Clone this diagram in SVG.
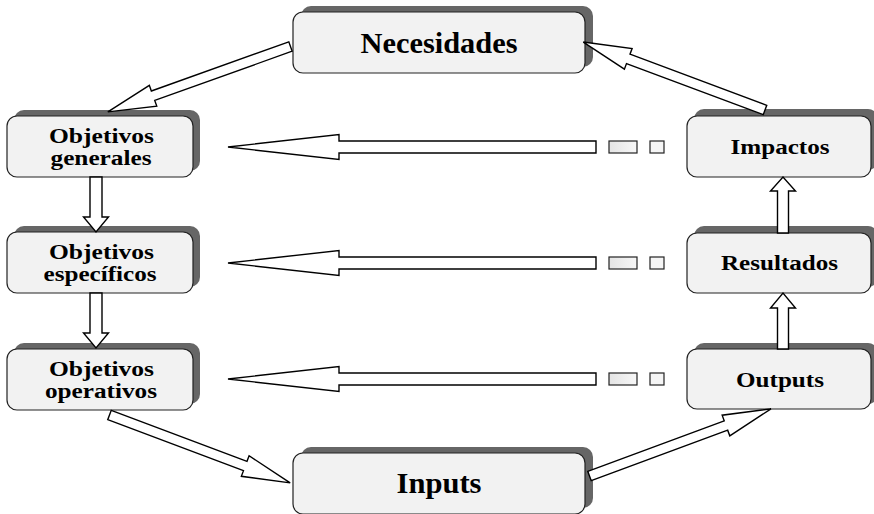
<svg xmlns="http://www.w3.org/2000/svg" width="874" height="514" viewBox="0 0 874 514">
<defs>
<linearGradient id="g1" x1="0" y1="0" x2="1" y2="0">
<stop offset="0" stop-color="#e4e4e4"/>
<stop offset="1" stop-color="#f7f7f7"/>
</linearGradient>
<style>
.sh{fill:#666;stroke:none}
.bx{fill:#f2f2f2;stroke:#222;stroke-width:1.2}
.t{font-family:"Liberation Serif","Times New Roman",serif;font-weight:bold;fill:#000;text-anchor:middle}
.big{font-size:29px}
.sm{font-size:20.5px}
.ar{fill:#fff;stroke:#000;stroke-width:1.4;stroke-linejoin:miter}
.d1{fill:url(#g1);stroke:#222;stroke-width:1.2}
.d2{fill:#f5f5f5;stroke:#222;stroke-width:1.2}
</style>
</defs>
<rect width="874" height="514" fill="#fff"/>

<g id="necesidades">
<rect class="sh" x="301" y="6" width="292" height="61" rx="10"/>
<rect class="bx" x="293" y="12" width="292" height="61" rx="10"/>
<text class="t big" x="439" y="53" textLength="157" lengthAdjust="spacingAndGlyphs">Necesidades</text>
</g>

<g id="objetivos-generales">
<rect class="sh" x="14" y="110" width="186" height="61" rx="10"/>
<rect class="bx" x="7" y="116" width="186" height="61" rx="10"/>
<text class="t sm" x="101.5" y="143" textLength="105" lengthAdjust="spacingAndGlyphs">Objetivos</text>
<text class="t sm" x="101" y="165" textLength="101" lengthAdjust="spacingAndGlyphs">generales</text>
</g>

<g id="objetivos-especificos">
<rect class="sh" x="14" y="226" width="186" height="61" rx="10"/>
<rect class="bx" x="7" y="232" width="186" height="61" rx="10"/>
<text class="t sm" x="101.5" y="259" textLength="105" lengthAdjust="spacingAndGlyphs">Objetivos</text>
<text class="t sm" x="100" y="281" textLength="113" lengthAdjust="spacingAndGlyphs">específicos</text>
</g>

<g id="objetivos-operativos">
<rect class="sh" x="14" y="343" width="186" height="61" rx="10"/>
<rect class="bx" x="7" y="349" width="186" height="61" rx="10"/>
<text class="t sm" x="101.5" y="376" textLength="105" lengthAdjust="spacingAndGlyphs">Objetivos</text>
<text class="t sm" x="101" y="398" textLength="112" lengthAdjust="spacingAndGlyphs">operativos</text>
</g>

<g id="inputs">
<rect class="sh" x="301" y="447" width="292" height="61" rx="10"/>
<rect class="bx" x="293" y="453" width="292" height="61" rx="10"/>
<text class="t big" x="439" y="493" textLength="85" lengthAdjust="spacingAndGlyphs">Inputs</text>
</g>

<g id="impactos">
<rect class="sh" x="694" y="109" width="184" height="61" rx="10"/>
<rect class="bx" x="687" y="116" width="184" height="61" rx="10"/>
<text class="t sm" x="780" y="154" textLength="99" lengthAdjust="spacingAndGlyphs">Impactos</text>
</g>

<g id="resultados">
<rect class="sh" x="694" y="226" width="184" height="61" rx="10"/>
<rect class="bx" x="687" y="233" width="184" height="60" rx="10"/>
<text class="t sm" x="779.5" y="270" textLength="117" lengthAdjust="spacingAndGlyphs">Resultados</text>
</g>

<g id="outputs">
<rect class="sh" x="694" y="343" width="184" height="61" rx="10"/>
<rect class="bx" x="687" y="349" width="184" height="60" rx="10"/>
<text class="t sm" x="780" y="387" textLength="88" lengthAdjust="spacingAndGlyphs">Outputs</text>
</g>

<g id="connectors">
<path class="ar" transform="translate(290.5,46.5) rotate(160.3)" d="M0,-5 L146,-5 L146,-11 L194,0 L146,11 L146,5 L0,5 Z"/>
<path class="ar" transform="translate(765,110) rotate(200.5)" d="M0,-5 L146,-5 L146,-11 L194,0 L146,11 L146,5 L0,5 Z"/>
<path class="ar" transform="translate(109.5,415) rotate(20.6)" d="M0,-5 L145,-5 L145,-11 L193,0 L145,11 L145,5 L0,5 Z"/>
<path class="ar" transform="translate(589.5,476) rotate(-20.3)" d="M0,-5 L145.5,-5 L145.5,-11 L193.5,0 L145.5,11 L145.5,5 L0,5 Z"/>

<path class="ar" d="M90,177 L102,177 L102,217 L108.5,217 L96,232 L83.5,217 L90,217 Z"/>
<path class="ar" d="M90,293 L102,293 L102,333 L108.5,333 L96,348 L83.5,333 L90,333 Z"/>
<path class="ar" d="M777.5,233 L788.5,233 L788.5,191 L795.5,191 L783,177 L770.5,191 L777.5,191 Z"/>
<path class="ar" d="M777.5,349 L788.5,349 L788.5,308 L795.5,308 L783,293 L770.5,308 L777.5,308 Z"/>

<path class="ar" d="M596,141 L339,141 L339,134.5 L228,147 L339,159.5 L339,153 L596,153 Z"/>
<rect class="d1" x="609" y="141" width="28" height="12"/>
<rect class="d2" x="650" y="141" width="14" height="12"/>

<path class="ar" d="M596,257 L339,257 L339,250.5 L228,263 L339,275.5 L339,269 L596,269 Z"/>
<rect class="d1" x="609" y="257" width="28" height="12"/>
<rect class="d2" x="650" y="257" width="14" height="12"/>

<path class="ar" d="M596,373 L339,373 L339,366.5 L228,379 L339,391.5 L339,385 L596,385 Z"/>
<rect class="d1" x="609" y="373" width="28" height="12"/>
<rect class="d2" x="650" y="373" width="14" height="12"/>
</g>
</svg>
